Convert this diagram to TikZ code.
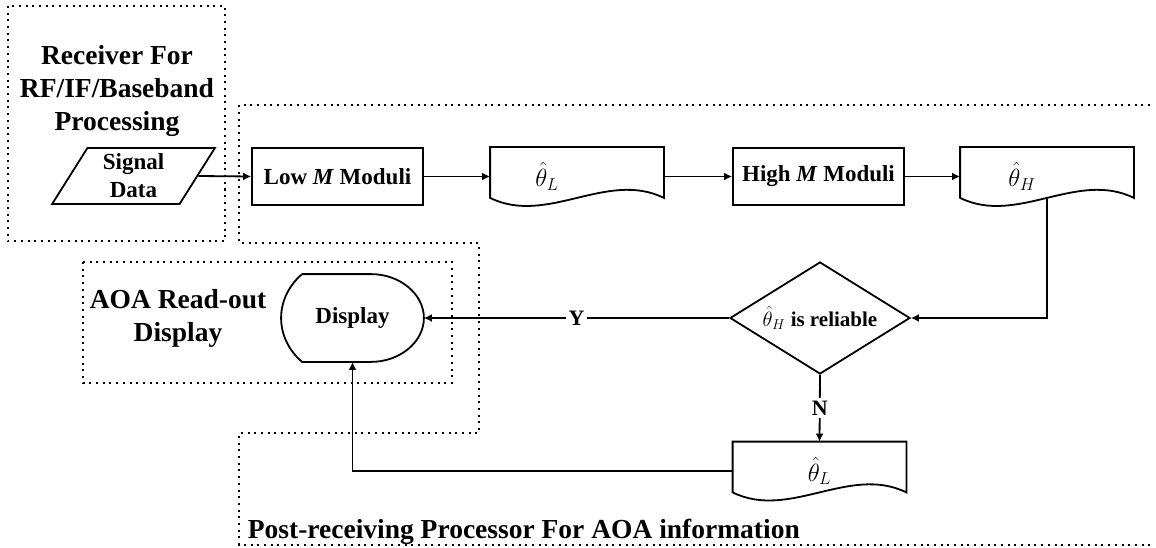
\documentclass[tikz,border=0pt]{standalone}
\usepackage{fontspec}
\setmainfont{Liberation Serif}
\usetikzlibrary{arrows.meta,shapes.geometric,calc}

\begin{document}
\begin{tikzpicture}[x=1pt,y=-1pt,line width=1.8pt,>={Latex[length=8pt,width=8pt]},
  block/.style={draw,minimum width=171pt,minimum height=57pt,inner sep=0pt,font=\bfseries\fontsize{23}{27}\selectfont},
  doc/.style={minimum width=172pt,minimum height=57pt,inner sep=0pt,font=\fontsize{24}{28}\selectfont},
  area/.style={line width=2pt,dash pattern=on 2pt off 4.7pt},
  head/.style={font=\bfseries\fontsize{27.5}{33}\selectfont,align=center,inner sep=0pt},
  flag/.style={fill=white,inner sep=3pt,font=\bfseries\fontsize{22}{26}\selectfont}]
\useasboundingbox (0,0) rectangle (1156,548);

% dotted areas
\draw[area] (8,6) rectangle (225,241);
\draw[area] (1150,105) -- (239,105) -- (239,243) -- (479,243) -- (479,433) -- (239,433) -- (239,545) -- (1150,545);
\draw[area] (83,262) rectangle (452,383);

% area titles
\node[head] (rx) at (117,91) {Receiver For\\RF/IF/Baseband\\Processing};
\node[head] (aoa) at (178,318) {AOA Read-out\\Display};
\node[head,anchor=base west] (post) at (247,538) {Post-receiving Processor For AOA information};

% flow
\node[draw,trapezium,trapezium left angle=62,trapezium right angle=118,trapezium stretches=true,
  minimum width=163pt,minimum height=56pt,inner sep=0pt,align=center,
  font=\bfseries\fontsize{23}{28}\selectfont] (sig) at (133.5,176) {Signal\\Data};
\node[block] (low) at (337.5,176.5) {Low \textit{M} Moduli};
\node[doc] (thL) at (577,176.5) {$\hat{\theta}_L$\kern60pt};
\node[block] (high) at (818.5,176.5) {High \textit{M} Moduli};
\node[doc] (thH) at (1047,176.5) {$\hat{\theta}_H$\kern50pt};
\node[draw,diamond,aspect=1.6,inner sep=0pt,minimum width=180pt,minimum height=112pt,
  font=\bfseries\fontsize{21}{25}\selectfont] (rel) at (820,318) {$\hat{\theta}_H$ is reliable};
\node[minimum width=141pt,minimum height=86pt,inner sep=0pt,font=\bfseries\fontsize{23}{27}\selectfont] (disp) at (352.5,318) {Display};
\node[doc] (thLb) at (819.5,471) {$\hat{\theta}_L$};

% document outlines
\foreach \d in {thL,thH,thLb}
  \draw (\d.north west) -- (\d.north east) -- ($(\d.south east)+(0,-8)$)
    .. controls +(-57,-28) and +(57,28) .. ($(\d.south west)+(0,-8)$) -- cycle;

% display outline
\draw ($(disp.north west)+(21,0)$) -- ($(disp.north east)+(-53,0)$)
  .. controls +(29,0) and +(0,-24) .. (disp.east)
  .. controls +(0,24) and +(29,0) .. ($(disp.south east)+(-53,0)$)
  -- ($(disp.south west)+(21,0)$)
  .. controls +(-13,-11) and +(0,17) .. (disp.west)
  .. controls +(0,-17) and +(-13,11) .. ($(disp.north west)+(21,0)$);

% connectors
\coordinate (thHout) at ($(thH.south)+(0,-8)$);
\draw[->] (sig.east) -- (low.west);
\draw[->] (low) -- (thL);
\draw[->] (thL) -- (high);
\draw[->] (high) -- (thH);
\draw[->] (thHout) |- (rel.east);
\draw[->] (rel.west) -- (disp.east) node[flag,midway] {Y};
\draw[->] (rel.south) -- (thLb.north) node[flag,midway] {N};
\draw[->] (thLb.west) -| (disp.south);
\end{tikzpicture}
\end{document}
